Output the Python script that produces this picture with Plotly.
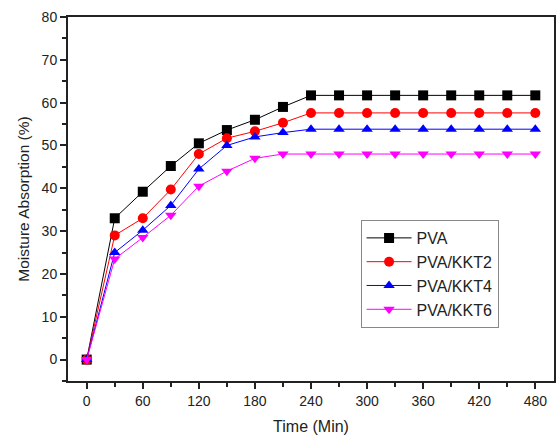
import plotly.graph_objects as go

time_min = [0, 30, 60, 90, 120, 150, 180, 210, 240, 270, 300, 330, 360, 390, 420, 450, 480]
pva = [0, 33, 39.2, 45.2, 50.5, 53.6, 56, 59, 61.7, 61.7, 61.7, 61.7, 61.7, 61.7, 61.7, 61.7, 61.7]
pva_kkt2 = [0, 29, 33, 39.7, 48, 51.7, 53.3, 55.3, 57.6, 57.6, 57.6, 57.6, 57.6, 57.6, 57.6, 57.6, 57.6]
pva_kkt4 = [0, 25, 30.2, 36, 44.5, 50, 52, 53, 53.8, 53.8, 53.8, 53.8, 53.8, 53.8, 53.8, 53.8, 53.8]
pva_kkt6 = [0, 23.5, 28.5, 33.7, 40.5, 44, 47, 48, 48, 48, 48, 48, 48, 48, 48, 48, 48]

x_ticks = [0, 60, 120, 180, 240, 300, 360, 420, 480]
y_ticks = [0, 10, 20, 30, 40, 50, 60, 70, 80]

series = [
    ("PVA", pva, "black", "square"),
    ("PVA/KKT2", pva_kkt2, "red", "circle"),
    ("PVA/KKT4", pva_kkt4, "blue", "triangle-up"),
    ("PVA/KKT6", pva_kkt6, "magenta", "triangle-down"),
]

FONT = "Arial, Liberation Sans, sans-serif"

fig = go.Figure()
for name, ys, color, sym in series:
    fig.add_trace(go.Scatter(
        x=time_min, y=ys, name=name, mode="lines+markers",
        line=dict(color=color, width=1),
        marker=dict(symbol=sym, size=10, color=color),
    ))

axis_common = dict(
    showline=True, linecolor="#222", linewidth=2, mirror=True,
    showgrid=False, zeroline=False, ticks="outside", ticklen=6,
    tickwidth=1.5, tickcolor="#222",
    tickfont=dict(family=FONT, size=14, color="#222"),
)

fig.update_layout(
    width=557, height=437,
    margin=dict(l=68, r=1, t=17, b=56),
    paper_bgcolor="white", plot_bgcolor="white",
    font=dict(family=FONT, color="#222"),
    xaxis=dict(range=[-20, 500], tickvals=x_ticks,
               minor=dict(dtick=30, tick0=0, ticks="outside", ticklen=4, tickcolor="#222", tickwidth=1.5),
               title=dict(text="Time (Min)", font=dict(size=16), standoff=13), **axis_common),
    yaxis=dict(range=[-5, 80], tickvals=y_ticks,
               minor=dict(dtick=5, tick0=0, ticks="outside", ticklen=4, tickcolor="#222", tickwidth=1.5),
               title=dict(text="Moisture Absorption (%)", font=dict(size=15.5), standoff=8), **axis_common),
    legend=dict(x=0.602, y=0.294, xanchor="left", yanchor="middle",
                bordercolor="#888", borderwidth=1, bgcolor="white",
                font=dict(size=16, family=FONT, color="#222"),
                tracegroupgap=0, itemwidth=45),
)

fig.write_html("out.html", config={"displayModeBar": False},
               post_script="document.body.style.margin='0';document.body.style.overflow='hidden';")
